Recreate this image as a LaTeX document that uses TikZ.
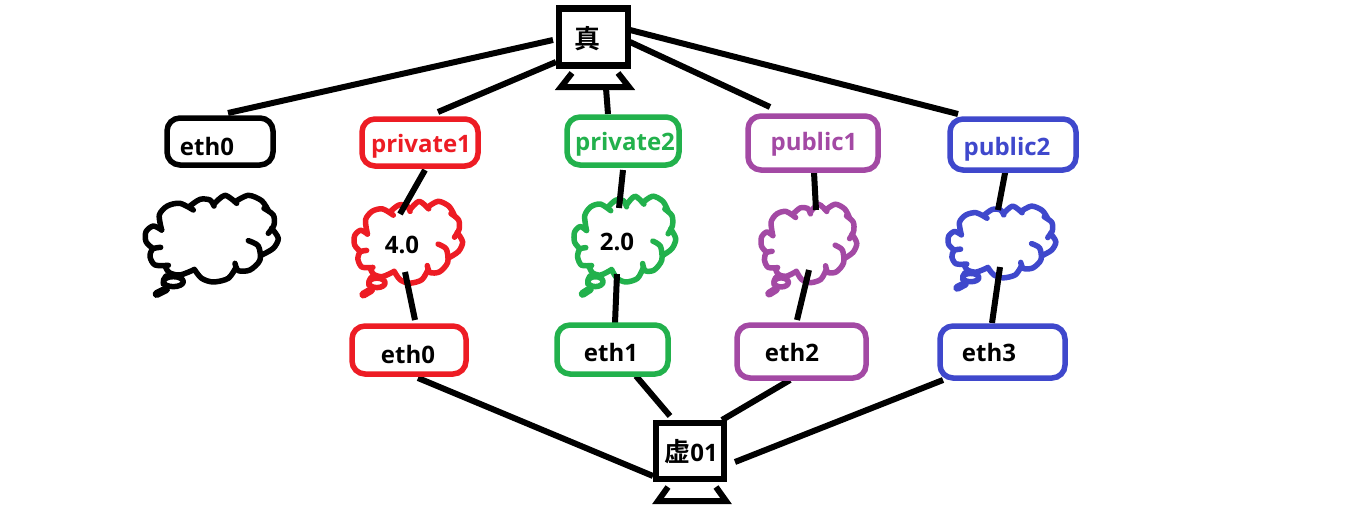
\documentclass[tikz,border=0pt]{standalone}
\usepackage{fontspec}
\setmainfont{Open Sans}[BoldFont={Open Sans Bold}]
\newfontfamily\cjkfont{Noto Sans CJK SC}[BoldFont={Noto Sans CJK SC Bold}]
\definecolor{pred}{HTML}{ED1C24}
\definecolor{pgreen}{HTML}{22B14C}
\definecolor{ppurple}{HTML}{A349A4}
\definecolor{pblue}{HTML}{3F48CC}
\tikzset{
  boxnode/.style={draw=#1,line width=5.5pt,rounded corners=13pt,fill=white,inner sep=0pt,outer sep=0pt},
  lbl/.style={text=#1,font=\bfseries\fontsize{24}{24}\selectfont,inner sep=0pt},
  wire/.style={line width=6pt,black},
  monitor/.style={draw=black,line width=6.5pt,fill=white,inner sep=0pt,outer sep=0pt},
  stand/.style={line width=6pt,black,line join=miter},
  puff/.style={line width=5.5pt,line cap=round,line join=round},
}
\newcommand{\puffcloud}[5]{%
\begin{scope}[shift={(#2,#3)},xscale=#4,yscale=#5,puff,draw=#1]
\draw plot[smooth] coordinates {(95,150)(88,105)(112,78)(150,70)(190,90)};
\draw plot[smooth] coordinates {(180,78)(210,58)(240,60)(252,78)};
\draw plot[smooth] coordinates {(252,72)(285,46)(320,70)};
\draw plot[smooth] coordinates {(316,65)(355,46)(395,62)(415,92)};
\draw plot[smooth] coordinates {(402,85)(430,105)(432,135)(415,160)};
\draw plot[smooth] coordinates {(425,145)(445,175)(430,205)(395,225)};
\draw plot[smooth] coordinates {(355,182)(385,198)(390,240)(360,270)(325,272)(315,250)};
\draw plot[smooth] coordinates {(318,262)(295,295)(250,306)(215,295)(193,268)};
\draw plot[smooth] coordinates {(190,270)(150,285)(118,278)(105,258)};
\draw plot[smooth] coordinates {(115,256)(75,255)(60,230)(68,207)(92,202)};
\draw plot[smooth] coordinates {(68,205)(48,185)(48,155)(70,138)(95,150)};
\draw (108,288) to[bend right=25] (100,312);
\draw (130,305) ellipse [x radius=30,y radius=15];
\draw[line width=8pt] (80,342) -- (108,328);
\end{scope}}
\begin{document}
\begin{tikzpicture}[x=1pt,y=-1pt]
\useasboundingbox[fill=white] (0,0) rectangle (1360,530);
% end points of the wires
\coordinate (a1) at (553,40);  \coordinate (a2) at (228,113);
\coordinate (b1) at (556,62);  \coordinate (b2) at (438,112);
\coordinate (c1) at (606,88);  \coordinate (c2) at (608,114);
\coordinate (d1) at (630,42);  \coordinate (d2) at (770,107);
\coordinate (e1) at (630,30);  \coordinate (e2) at (958,114);
\coordinate (f1) at (425,170); \coordinate (f2) at (400,214);
\coordinate (f3) at (405,272); \coordinate (f4) at (415,320);
\coordinate (g1) at (623,170); \coordinate (g2) at (619,208);
\coordinate (g3) at (617,274); \coordinate (g4) at (615,323);
\coordinate (h1) at (814,172); \coordinate (h2) at (816,210);
\coordinate (h3) at (809,270); \coordinate (h4) at (797,320);
\coordinate (i1) at (1006,168);\coordinate (i2) at (998,210);
\coordinate (i3) at (1000,267);\coordinate (i4) at (992,323);
\coordinate (j1) at (418,378); \coordinate (j2) at (653,476);
\coordinate (k1) at (636,376); \coordinate (k2) at (670,416);
\coordinate (l1) at (790,380); \coordinate (l2) at (722,420);
\coordinate (m1) at (943,380); \coordinate (m2) at (735,462);
% clouds
\puffcloud{black}{130}{180}{0.3333}{0.3333}
\puffcloud{pred}{341.6}{186.8}{0.272}{0.315}
\puffcloud{pgreen}{562.3}{181}{0.255}{0.33}
\puffcloud{ppurple}{750}{190.3}{0.24}{0.302}
\puffcloud{pblue}{935.7}{193.4}{0.27}{0.276}
% wires
\foreach \p/\q in {a1/a2,b1/b2,c1/c2,d1/d2,e1/e2,f1/f2,f3/f4,g1/g2,g3/g4,h1/h2,h3/h4,i1/i2,i3/i4,j1/j2,k1/k2,l1/l2,m1/m2}
  \draw[wire] (\p) -- (\q);
% monitors
\node[monitor,minimum width=69pt,minimum height=57pt] (real) at (593.5,37) {};
\draw[stand] (572,73) -- (561,87) -- (629,87) -- (618,73);
\node[lbl=black] (realt) at (587.5,39) {\fontsize{26}{26}\selectfont\cjkfont 真};
\node[monitor,minimum width=68pt,minimum height=56pt] (virt) at (690,451) {};
\draw[stand] (668,487) -- (658,501) -- (726,501) -- (716,487);
\node[lbl=black] (virtt) at (691,452) {{\fontsize{26}{26}\selectfont\cjkfont 虚}\rmfamily 01};
% upper boxes
\node[boxnode=black,minimum width=106pt,minimum height=47pt] (n0) at (220,141.5) {};
\node[lbl=black] (n0t) at (207,146) {eth0};
\node[boxnode=pred,minimum width=116pt,minimum height=47pt] (n1) at (420,142.5) {};
\node[lbl=pred] (n1t) at (421,146) {private1};
\node[boxnode=pgreen,minimum width=112pt,minimum height=48pt] (n2) at (623,141) {};
\node[lbl=pgreen] (n2t) at (625,144) {private2};
\node[boxnode=ppurple,minimum width=130pt,minimum height=54pt] (n3) at (813,143) {};
\node[lbl=ppurple] (n3t) at (814,144) {public1};
\node[boxnode=pblue,minimum width=126pt,minimum height=51pt] (n4) at (1013,144.5) {};
\node[lbl=pblue] (n4t) at (1007,149) {public2};
% cloud texts
\node[lbl=black] (c1t) at (402,245) {4.0};
\node[lbl=black] (c2t) at (617,242) {2.0};
% lower boxes
\node[boxnode=pred,minimum width=114pt,minimum height=48pt] (e0) at (409,350) {};
\node[lbl=black] (e0t) at (408,354) {eth0};
\node[boxnode=pgreen,minimum width=111pt,minimum height=49pt] (e1) at (612.5,349.5) {};
\node[lbl=black] (e1t) at (611,352) {eth1};
\node[boxnode=ppurple,minimum width=129pt,minimum height=53pt] (e2) at (801.5,351.5) {};
\node[lbl=black] (e2t) at (792,352) {eth2};
\node[boxnode=pblue,minimum width=125pt,minimum height=52pt] (e3) at (1002.5,352) {};
\node[lbl=black] (e3t) at (989,352) {eth3};
\end{tikzpicture}
\end{document}
